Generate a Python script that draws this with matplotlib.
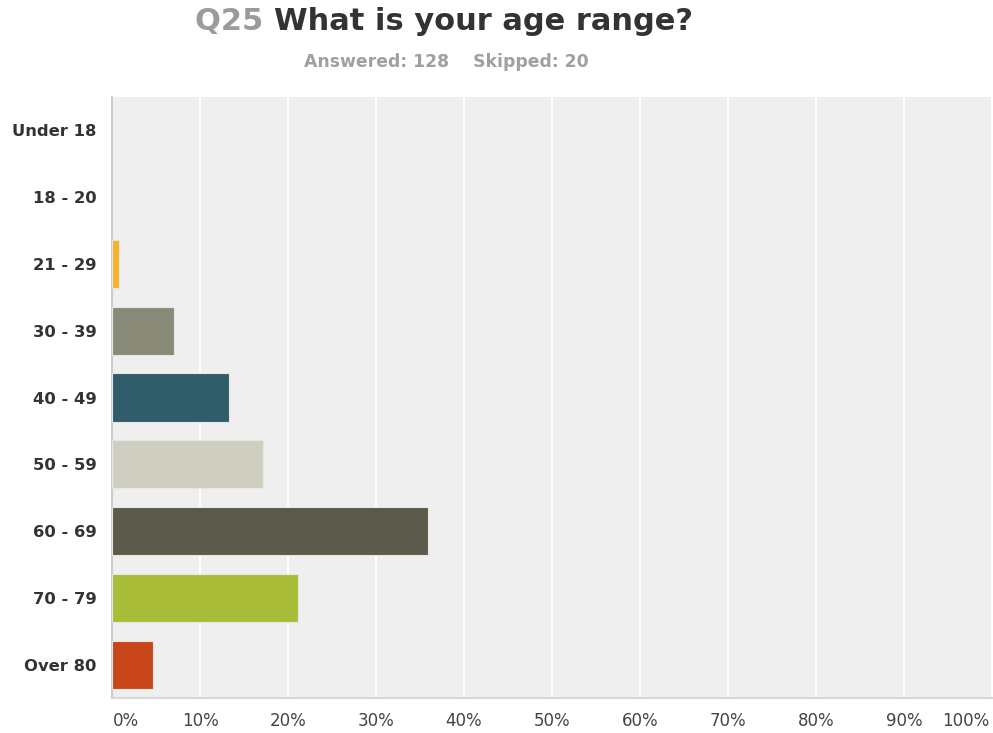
import matplotlib
matplotlib.use("Agg")
import matplotlib.pyplot as plt

categories = ["Under 18", "18 - 20", "21 - 29", "30 - 39", "40 - 49",
              "50 - 59", "60 - 69", "70 - 79", "Over 80"]
percent = [0.0, 0.0, 0.78, 7.03, 13.28, 17.19, 35.94, 21.09, 4.69]
colors = ["#f3b32b", "#f3b32b", "#f5b22b", "#8a8a78", "#2f5e6a",
          "#d0cec1", "#5c5a4a", "#a9bd39", "#c9461b"]
xticks = [0, 10, 20, 30, 40, 50, 60, 70, 80, 90, 100]
xtick_labels = [f"{t}%" for t in xticks]

W, H = 993, 733
fig = plt.figure(figsize=(W / 100, H / 100), dpi=100)
fig.patch.set_facecolor("white")

left, right, top, bottom = 112, 992, 97, 698
ax = fig.add_axes([left / W, 1 - bottom / H, (right - left) / W, (bottom - top) / H])
ax.set_facecolor("#efefef")

y = list(range(len(categories)))
widths = [0.8 if v > 0 else 0 for v in percent]
ax.barh(y, percent, height=0.72, color=colors, edgecolor="#e6e6e6",
        linewidth=widths, zorder=3)
ax.set_ylim(len(categories) - 0.5, -0.5)
ax.set_xlim(0, 100)

ax.set_xticks(xticks)
ax.set_xticklabels([])
ax.grid(axis="x", color="white", linewidth=1.5, zorder=1)
ax.tick_params(length=0)
ax.set_yticks(y)
ax.set_yticklabels(categories, fontfamily="DejaVu Sans", fontweight="bold",
                   fontsize=11.8, color="#333333")
ax.tick_params(axis="y", pad=11)

for s in ("top", "right"):
    ax.spines[s].set_visible(False)
ax.spines["left"].set_color("#cccccc")
ax.spines["left"].set_linewidth(1.5)
ax.spines["bottom"].set_color("#d8d8d8")
ax.spines["bottom"].set_linewidth(1.5)

# x tick labels, kept inside the figure at the ends
for t, lab in zip(xticks, xtick_labels):
    xoff = 0
    if t == 0:
        xoff = 1.6
    if t == 100:
        xoff = -3.0
    fig.text((left + (t + xoff) / 100 * (right - left)) / W, 1 - 721 / H, lab,
             ha="center", va="center", fontsize=12, color="#444444",
             fontfamily="DejaVu Sans")

# two-colour title
fig.canvas.draw()
r = fig.canvas.get_renderer()
t1 = fig.text(195 / W, 1 - 22 / H, "Q25 ", fontsize=22, fontweight="bold",
              color="#9b9b9b", va="center", ha="left", fontfamily="DejaVu Sans")
bb = t1.get_window_extent(renderer=r)
fig.text(bb.x1 / W, 1 - 22 / H, "What is your age range?", fontsize=22,
         fontweight="bold", color="#333333", va="center", ha="left",
         fontfamily="DejaVu Sans")

fig.text(446 / W, 1 - 62 / H, "Answered: 128    Skipped: 20", fontsize=12.4,
         fontweight="bold", color="#a0a0a0", ha="center", va="center",
         fontfamily="DejaVu Sans")

fig.savefig("out.png", dpi=100, facecolor="white")
